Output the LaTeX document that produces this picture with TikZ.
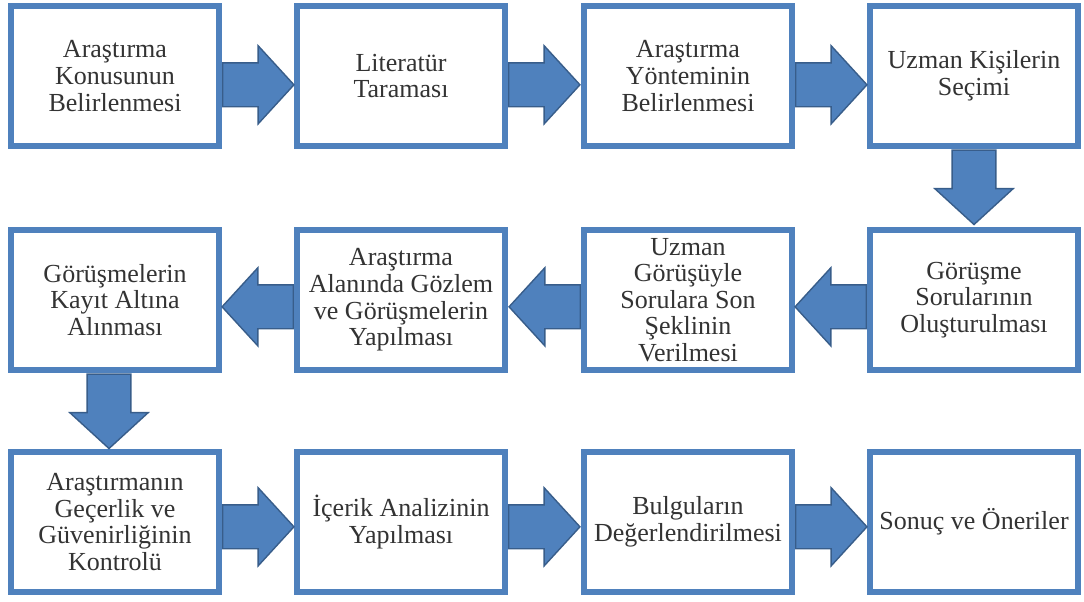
\documentclass[tikz,border=0pt]{standalone}
\usepackage{fontspec}
\setmainfont{Liberation Serif}
\usetikzlibrary{shapes,shadows,calc}

\definecolor{boxblue}{HTML}{4F81BD}
\definecolor{arrowline}{HTML}{385D8A}

\begin{document}
\begin{tikzpicture}[x=0.025cm, y=-0.025cm,
		phase/.style={draw=boxblue, line width=4.25pt, fill=white, minimum width=5.2cm, minimum height=3.52cm,
			align=center, text=black!80, font=\fontsize{18.5}{18.9}\selectfont,
			drop shadow={shadow xshift=1.2pt, shadow yshift=-1.2pt, opacity=0.35}},
		flowarrow/.style={single arrow, draw=arrowline, fill=boxblue, line width=1pt, inner xsep=0pt, inner ysep=0.53cm,
			minimum width=0pt, single arrow head extend=0.43cm, single arrow tip angle=95,
			pos=0, anchor=tail, sloped, allow upside down},
		hgap/.style={minimum height=1.78cm},
		vgap/.style={minimum height=1.86cm}]
	\useasboundingbox (0,0) rectangle (1084,601);

	% First row
	\node[phase] (konu) at (115,76) {Araştırma\\Konusunun\\Belirlenmesi};
	\node[phase] (literatur) at (401,76) {Literatür\\Taraması};
	\node[phase] (yontem) at (688,76) {Araştırma\\Yönteminin\\Belirlenmesi};
	\node[phase] (uzman) at (974,76) {Uzman Kişilerin\\Seçimi};

	% Second row (read from right to left)
	\node[phase] (sorular) at (974,300) {Görüşme\\Sorularının\\Oluşturulması};
	\node[phase] (sonsekil) at (688,300) {Uzman\\Görüşüyle\\Sorulara Son\\Şeklinin\\Verilmesi};
	\node[phase] (gozlem) at (401,300) {Araştırma\\Alanında Gözlem\\ve Görüşmelerin\\Yapılması};
	\node[phase] (kayit) at (115,300) {Görüşmelerin\\Kayıt Altına\\Alınması};

	% Third row
	\node[phase] (gecerlik) at (115,522) {Araştırmanın\\Geçerlik ve\\Güvenirliğinin\\Kontrolü};
	\node[phase] (analiz) at (401,522) {İçerik Analizinin\\Yapılması};
	\node[phase] (bulgu) at (688,522) {Bulguların\\Değerlendirilmesi};
	\node[phase] (sonuc) at (974,522) {Sonuç ve Öneriler};

	% Block arrows between the steps
	\path ([yshift=-0.22cm]konu.east) -- ([yshift=-0.22cm]literatur.west) node[flowarrow, hgap] {};
	\path ([yshift=-0.22cm]literatur.east) -- ([yshift=-0.22cm]yontem.west) node[flowarrow, hgap] {};
	\path ([yshift=-0.22cm]yontem.east) -- ([yshift=-0.22cm]uzman.west) node[flowarrow, hgap] {};
	\path (uzman.south) -- (sorular.north) node[flowarrow, vgap] {};
	\path ([yshift=-0.17cm]sorular.west) -- ([yshift=-0.17cm]sonsekil.east) node[flowarrow, hgap] {};
	\path ([yshift=-0.17cm]sonsekil.west) -- ([yshift=-0.17cm]gozlem.east) node[flowarrow, hgap] {};
	\path ([yshift=-0.17cm]gozlem.west) -- ([yshift=-0.17cm]kayit.east) node[flowarrow, hgap] {};
	\path ([xshift=-0.15cm]kayit.south) -- ([xshift=-0.15cm]gecerlik.north) node[flowarrow, vgap] {};
	\path ([yshift=-0.12cm]gecerlik.east) -- ([yshift=-0.12cm]analiz.west) node[flowarrow, hgap] {};
	\path ([yshift=-0.12cm]analiz.east) -- ([yshift=-0.12cm]bulgu.west) node[flowarrow, hgap] {};
	\path ([yshift=-0.12cm]bulgu.east) -- ([yshift=-0.12cm]sonuc.west) node[flowarrow, hgap] {};
\end{tikzpicture}
\end{document}
